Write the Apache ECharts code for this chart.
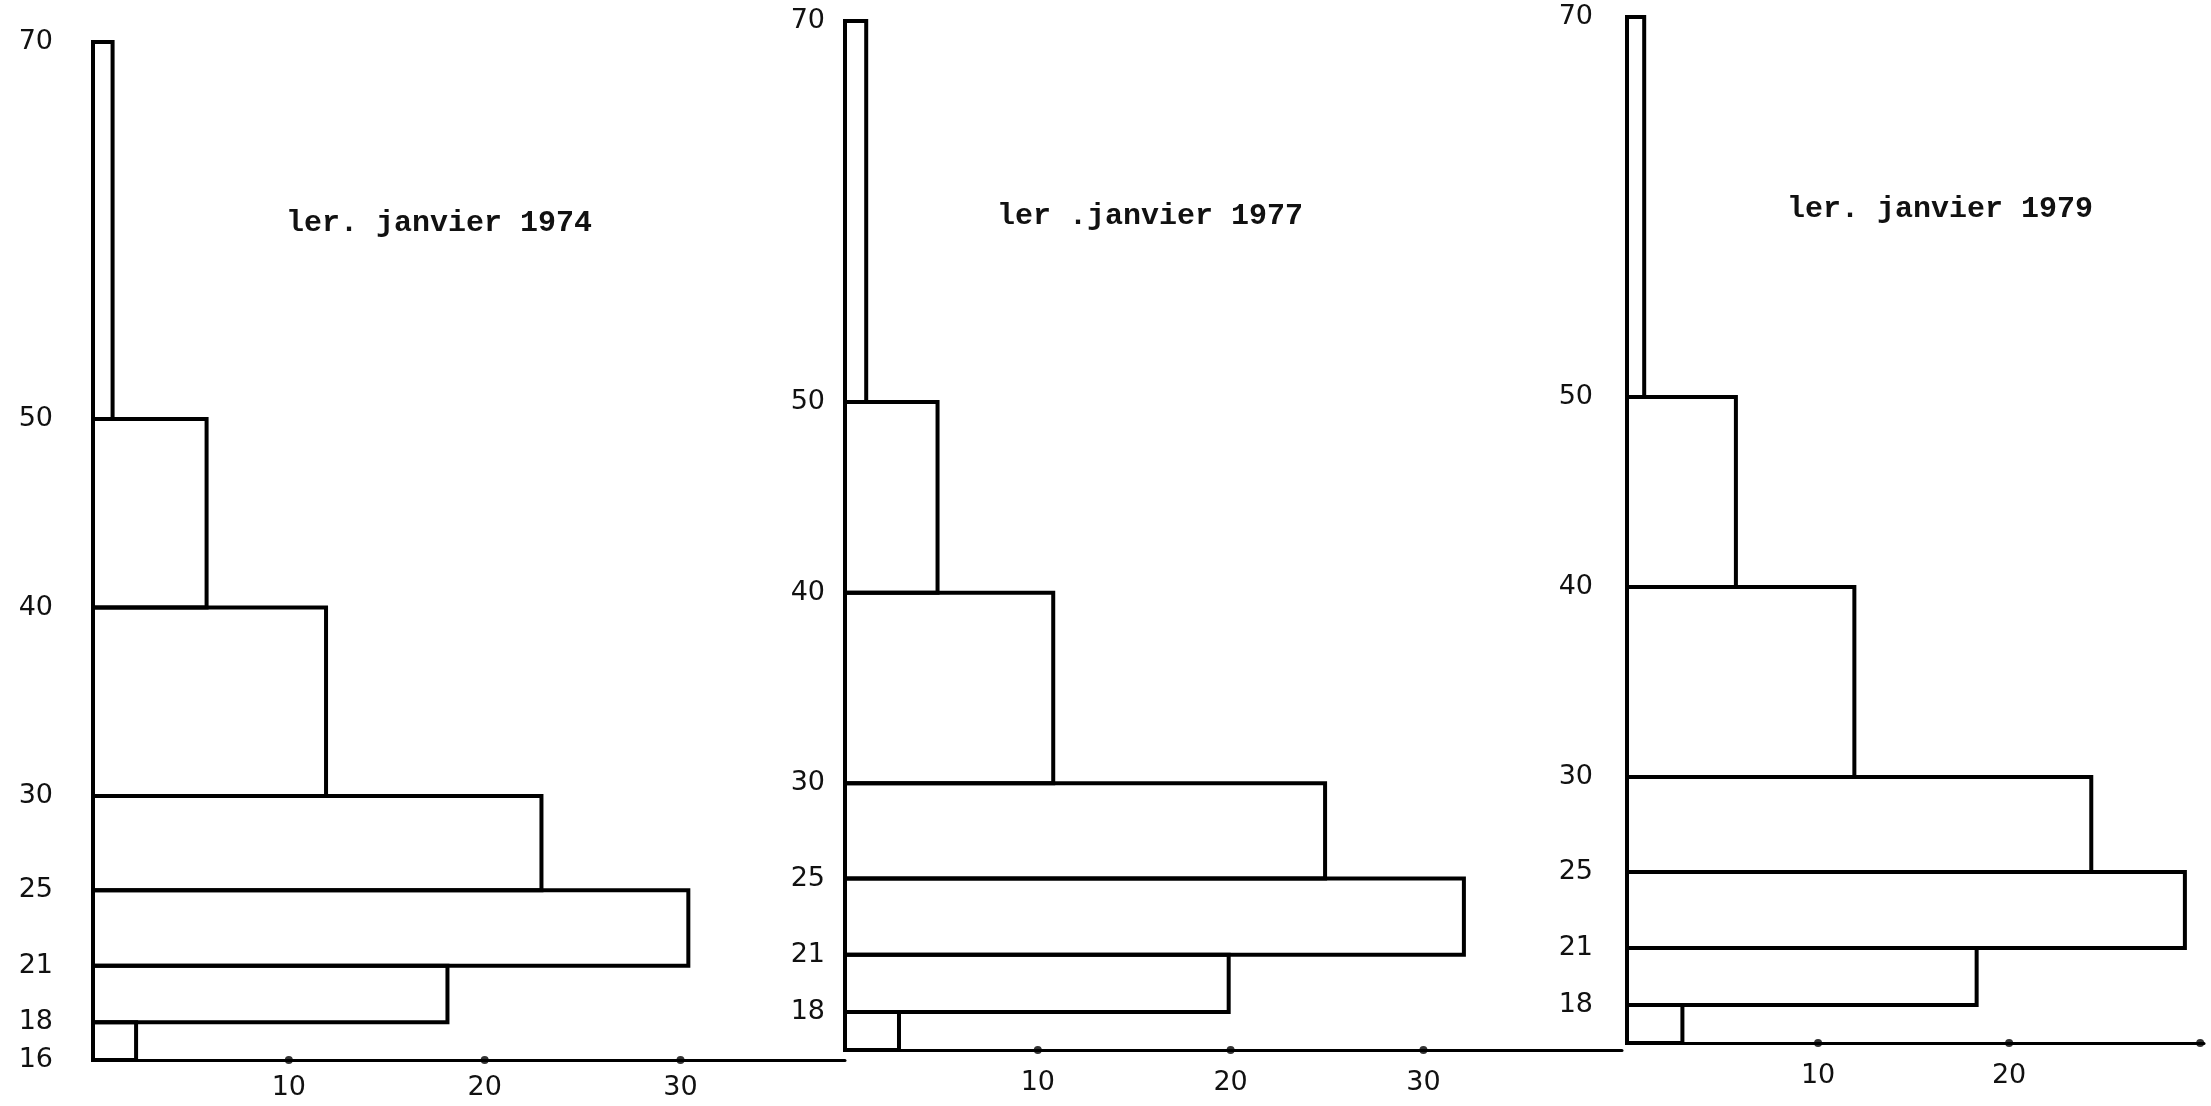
<!DOCTYPE html>
<html>
<head>
<meta charset="utf-8">
<script src="https://cdn.jsdelivr.net/npm/echarts@6/dist/echarts.min.js"></script>
<style>
html,body{margin:0;padding:0;background:#fff;}
#chart{width:2211px;height:1106px;}
</style>
</head>
<body>
<div id="chart"></div>
<script>
// Age class boundaries (years)
const ageBreaks = [16, 18, 21, 25, 30, 40, 50, 70];
// Bar lengths per age class (16-18, 18-21, 21-25, 25-30, 30-40, 40-50, 50-70)
const pct1974 = [2.2, 18.1, 30.4, 22.9, 11.9, 5.8, 1.0];
const pct1977 = [2.8, 19.9, 32.1, 24.9, 10.8, 4.8, 1.1];
const pct1979 = [2.9, 18.3, 29.2, 24.3, 11.9, 5.7, 0.9];
const panelTitles = ['ler. janvier 1974', 'ler .janvier 1977', 'ler. janvier 1979'];
const ageLabels1 = [16, 18, 21, 25, 30, 40, 50, 70];
const ageLabels23 = [18, 21, 25, 30, 40, 50, 70];
const xTicks12 = [10, 20, 30];
const xTicks3 = [10, 20, 30];
const xLabels3 = [10, 20];

function toBins(vals) {
  return vals.map((v, i) => [ageBreaks[i], ageBreaks[i + 1], v]);
}

function renderItem(params, api) {
  const y0 = api.value(0), y1 = api.value(1), v = api.value(2);
  const p0 = api.coord([0, y1]);
  const p1 = api.coord([v, y0]);
  return {
    type: 'rect',
    shape: { x: p0[0], y: p0[1], width: p1[0] - p0[0], height: p1[1] - p0[1] },
    style: { fill: 'none', stroke: '#000', lineWidth: 4 }
  };
}

const labelFont = { color: '#111', fontFamily: 'DejaVu Sans', fontSize: 27 };

const grids = [
  { left: 93, top: 42, width: 752, height: 1018 },
  { left: 845, top: 21, width: 777, height: 1029 },
  { left: 1627, top: 17, width: 577, height: 1026 }
];
const xMax = [38.4, 40.3, 30.2];
const yLabelSets = [ageLabels1, ageLabels23, ageLabels23];
const yMargins = [40, 20, 34];
const xLabelSets = [xTicks12, xTicks12, xLabels3];
const xTickSets = [xTicks12, xTicks12, xTicks3];
const xMargins = [14, 19, 19];
const dataSets = [pct1974, pct1977, pct1979];
const titlePos = [[286, 208], [997, 201], [1787, 194]];

const option = {
  backgroundColor: '#fff',
  animation: false,
  title: panelTitles.map((t, i) => ({
    text: t, left: titlePos[i][0], top: titlePos[i][1], padding: 0,
    textStyle: { fontFamily: 'Liberation Mono', fontSize: 30, fontWeight: 'bold', color: '#111' }
  })),
  grid: grids,
  xAxis: grids.map((g, i) => ({
    type: 'value', gridIndex: i, min: 0, max: xMax[i],
    axisLine: { show: true, lineStyle: { color: '#000', width: 3 } },
    axisTick: { show: false },
    splitLine: { show: false },
    axisLabel: Object.assign({ customValues: xLabelSets[i], margin: xMargins[i] }, labelFont)
  })),
  yAxis: grids.map((g, i) => ({
    type: 'value', gridIndex: i, min: 16, max: 70,
    axisLine: { show: false },
    axisTick: { show: false },
    splitLine: { show: false },
    axisLabel: Object.assign({ customValues: yLabelSets[i], margin: yMargins[i] }, labelFont)
  })),
  series: [].concat(
    dataSets.map((d, i) => ({
      type: 'custom', xAxisIndex: i, yAxisIndex: i,
      renderItem: renderItem, clip: false,
      encode: { x: 2, y: [0, 1] },
      data: toBins(d)
    })),
    xTickSets.map((t, i) => ({
      type: 'scatter', xAxisIndex: i, yAxisIndex: i,
      symbol: 'circle', symbolSize: 8, clip: false,
      itemStyle: { color: '#000' },
      data: t.map(v => [v, ageBreaks[0]])
    }))
  )
};

const chart = echarts.init(document.getElementById('chart'), null, { renderer: 'canvas' });
chart.setOption(option);
</script>
</body>
</html>
